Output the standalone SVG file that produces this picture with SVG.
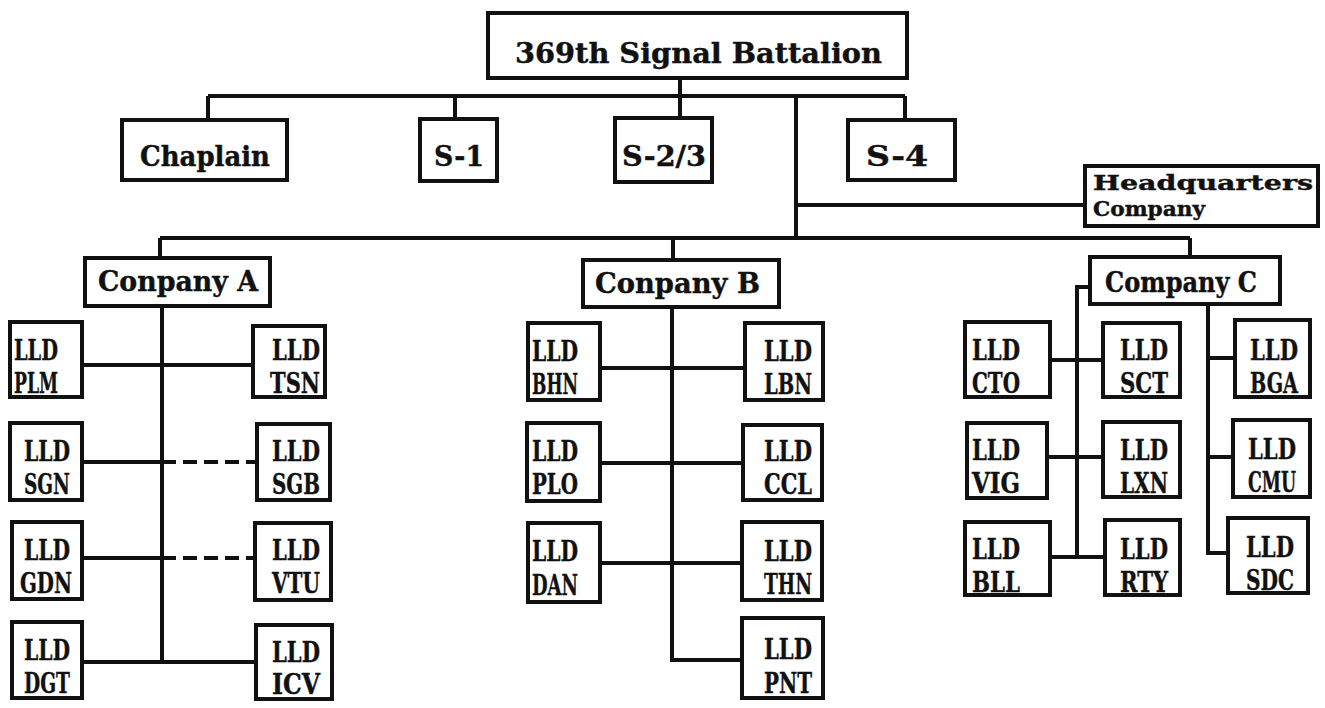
<svg xmlns="http://www.w3.org/2000/svg" width="1325" height="708" viewBox="0 0 1325 708">
<style>
.box{fill:#fff;stroke:#111;stroke-width:4}
.ln{stroke:#111;stroke-width:4;fill:none}
.dash{stroke:#111;stroke-width:4;fill:none;stroke-dasharray:14 7}
.t{font-family:"DejaVu Serif","Liberation Serif",serif;font-weight:bold;fill:#111;stroke:#111;stroke-width:0.4}
.s{font-size:27px}
.q{font-size:20px}
</style>
<rect width="1325" height="708" fill="#fff"/>
<g id="connectors">
<path class="ln" d="M680 78V118M208 96H905M208 96V120M455 96V120M905 96V120M796 96V238M796 205H1085M160 238H1190M160 238V258M673 238V260M1190 238V257"/>
<path class="ln" d="M162 305V662M82 365H253M82 462H162M82 558H162M82 662H256"/>
<path class="dash" d="M162 462H257M162 558H255"/>
<path class="ln" d="M672 307V660H742M600 368H745M600 463H743M600 563H742"/>
<path class="ln" d="M1090 287H1077V557M1050 360H1103M1047 457H1103M1050 557H1105M1208 305V553H1228M1208 358H1235M1208 457H1233"/>
</g>
<g id="n-battalion"><rect class="box" x="488" y="13" width="419" height="65"/><text class="t s" x="515" y="63" textLength="367" lengthAdjust="spacingAndGlyphs">369th Signal Battalion</text></g>
<g id="n-chaplain"><rect class="box" x="122" y="120" width="165" height="60"/><text class="t s" x="140" y="166" textLength="130" lengthAdjust="spacingAndGlyphs">Chaplain</text></g>
<g id="n-s1"><rect class="box" x="420" y="119" width="77" height="62"/><text class="t s" x="434" y="166" textLength="50" lengthAdjust="spacingAndGlyphs">S-1</text></g>
<g id="n-s23"><rect class="box" x="615" y="118" width="97" height="64"/><text class="t s" x="622" y="166" textLength="84" lengthAdjust="spacingAndGlyphs">S-2/3</text></g>
<g id="n-s4"><rect class="box" x="848" y="120" width="107" height="60"/><text class="t s" x="866" y="166" textLength="62" lengthAdjust="spacingAndGlyphs">S-4</text></g>
<g id="n-hq"><rect class="box" x="1085" y="166" width="233" height="60"/><text class="t q" x="1093" y="190" textLength="220" lengthAdjust="spacingAndGlyphs">Headquarters</text><text class="t q" x="1093" y="216" textLength="112" lengthAdjust="spacingAndGlyphs">Company</text></g>
<g id="n-coa"><rect class="box" x="85" y="258" width="185" height="48"/><text class="t s" x="98" y="291" textLength="160" lengthAdjust="spacingAndGlyphs">Conpany A</text></g>
<g id="n-cob"><rect class="box" x="583" y="260" width="196" height="47"/><text class="t s" x="595" y="293" textLength="165" lengthAdjust="spacingAndGlyphs">Conpany B</text></g>
<g id="n-coc"><rect class="box" x="1090" y="257" width="190" height="47"/><text class="t s" x="1105" y="292" textLength="152" lengthAdjust="spacingAndGlyphs">Company C</text></g>
<g font-size="28px">
<g id="n-plm"><rect class="box" x="10" y="322" width="72" height="75"/><text class="t" x="14" y="360" textLength="44" lengthAdjust="spacingAndGlyphs">LLD</text><text class="t" x="14" y="393" textLength="44" lengthAdjust="spacingAndGlyphs">PLM</text></g>
<g id="n-sgn"><rect class="box" x="10" y="423" width="72" height="77"/><text class="t" x="24" y="461" textLength="46" lengthAdjust="spacingAndGlyphs">LLD</text><text class="t" x="24" y="494" textLength="46" lengthAdjust="spacingAndGlyphs">SGN</text></g>
<g id="n-gdn"><rect class="box" x="12" y="522" width="70" height="77"/><text class="t" x="24" y="560" textLength="46" lengthAdjust="spacingAndGlyphs">LLD</text><text class="t" x="20" y="593" textLength="52" lengthAdjust="spacingAndGlyphs">GDN</text></g>
<g id="n-dgt"><rect class="box" x="12" y="622" width="70" height="76"/><text class="t" x="24" y="660" textLength="46" lengthAdjust="spacingAndGlyphs">LLD</text><text class="t" x="24" y="693" textLength="46" lengthAdjust="spacingAndGlyphs">DGT</text></g>
<g id="n-tsn"><rect class="box" x="253" y="326" width="72" height="71"/><text class="t" x="272" y="360" textLength="48" lengthAdjust="spacingAndGlyphs">LLD</text><text class="t" x="270" y="393" textLength="50" lengthAdjust="spacingAndGlyphs">TSN</text></g>
<g id="n-sgb"><rect class="box" x="257" y="424" width="73" height="76"/><text class="t" x="272" y="461" textLength="48" lengthAdjust="spacingAndGlyphs">LLD</text><text class="t" x="272" y="494" textLength="48" lengthAdjust="spacingAndGlyphs">SGB</text></g>
<g id="n-vtu"><rect class="box" x="255" y="523" width="76" height="77"/><text class="t" x="272" y="560" textLength="48" lengthAdjust="spacingAndGlyphs">LLD</text><text class="t" x="272" y="593" textLength="48" lengthAdjust="spacingAndGlyphs">VTU</text></g>
<g id="n-icv"><rect class="box" x="256" y="625" width="76" height="74"/><text class="t" x="272" y="662" textLength="48" lengthAdjust="spacingAndGlyphs">LLD</text><text class="t" x="272" y="694" textLength="48" lengthAdjust="spacingAndGlyphs">ICV</text></g>
<g id="n-bhn"><rect class="box" x="528" y="323" width="72" height="77"/><text class="t" x="532" y="361" textLength="46" lengthAdjust="spacingAndGlyphs">LLD</text><text class="t" x="532" y="394" textLength="46" lengthAdjust="spacingAndGlyphs">BHN</text></g>
<g id="n-plo"><rect class="box" x="527" y="423" width="73" height="78"/><text class="t" x="532" y="461" textLength="46" lengthAdjust="spacingAndGlyphs">LLD</text><text class="t" x="532" y="494" textLength="46" lengthAdjust="spacingAndGlyphs">PLO</text></g>
<g id="n-dan"><rect class="box" x="528" y="523" width="72" height="79"/><text class="t" x="532" y="561" textLength="46" lengthAdjust="spacingAndGlyphs">LLD</text><text class="t" x="532" y="595" textLength="46" lengthAdjust="spacingAndGlyphs">DAN</text></g>
<g id="n-lbn"><rect class="box" x="745" y="323" width="78" height="77"/><text class="t" x="764" y="361" textLength="48" lengthAdjust="spacingAndGlyphs">LLD</text><text class="t" x="764" y="394" textLength="48" lengthAdjust="spacingAndGlyphs">LBN</text></g>
<g id="n-ccl"><rect class="box" x="743" y="425" width="79" height="75"/><text class="t" x="764" y="461" textLength="48" lengthAdjust="spacingAndGlyphs">LLD</text><text class="t" x="764" y="494" textLength="48" lengthAdjust="spacingAndGlyphs">CCL</text></g>
<g id="n-thn"><rect class="box" x="742" y="522" width="80" height="78"/><text class="t" x="764" y="561" textLength="48" lengthAdjust="spacingAndGlyphs">LLD</text><text class="t" x="764" y="594" textLength="48" lengthAdjust="spacingAndGlyphs">THN</text></g>
<g id="n-pnt"><rect class="box" x="742" y="618" width="81" height="80"/><text class="t" x="764" y="659" textLength="48" lengthAdjust="spacingAndGlyphs">LLD</text><text class="t" x="764" y="693" textLength="48" lengthAdjust="spacingAndGlyphs">PNT</text></g>
<g id="n-cto"><rect class="box" x="965" y="322" width="85" height="75"/><text class="t" x="972" y="360" textLength="48" lengthAdjust="spacingAndGlyphs">LLD</text><text class="t" x="972" y="393" textLength="48" lengthAdjust="spacingAndGlyphs">CTO</text></g>
<g id="n-vig"><rect class="box" x="967" y="423" width="80" height="75"/><text class="t" x="972" y="460" textLength="48" lengthAdjust="spacingAndGlyphs">LLD</text><text class="t" x="972" y="493" textLength="48" lengthAdjust="spacingAndGlyphs">VIG</text></g>
<g id="n-bll"><rect class="box" x="965" y="522" width="85" height="73"/><text class="t" x="972" y="559" textLength="48" lengthAdjust="spacingAndGlyphs">LLD</text><text class="t" x="972" y="592" textLength="48" lengthAdjust="spacingAndGlyphs">BLL</text></g>
<g id="n-sct"><rect class="box" x="1103" y="323" width="77" height="74"/><text class="t" x="1120" y="360" textLength="48" lengthAdjust="spacingAndGlyphs">LLD</text><text class="t" x="1120" y="393" textLength="48" lengthAdjust="spacingAndGlyphs">SCT</text></g>
<g id="n-lxn"><rect class="box" x="1103" y="422" width="77" height="75"/><text class="t" x="1120" y="460" textLength="48" lengthAdjust="spacingAndGlyphs">LLD</text><text class="t" x="1120" y="493" textLength="48" lengthAdjust="spacingAndGlyphs">LXN</text></g>
<g id="n-rty"><rect class="box" x="1105" y="520" width="75" height="75"/><text class="t" x="1120" y="559" textLength="48" lengthAdjust="spacingAndGlyphs">LLD</text><text class="t" x="1120" y="592" textLength="48" lengthAdjust="spacingAndGlyphs">RTY</text></g>
<g id="n-bga"><rect class="box" x="1235" y="320" width="75" height="77"/><text class="t" x="1250" y="360" textLength="48" lengthAdjust="spacingAndGlyphs">LLD</text><text class="t" x="1250" y="393" textLength="48" lengthAdjust="spacingAndGlyphs">BGA</text></g>
<g id="n-cmu"><rect class="box" x="1233" y="420" width="77" height="77"/><text class="t" x="1248" y="459" textLength="48" lengthAdjust="spacingAndGlyphs">LLD</text><text class="t" x="1248" y="492" textLength="48" lengthAdjust="spacingAndGlyphs">CMU</text></g>
<g id="n-sdc"><rect class="box" x="1228" y="518" width="80" height="75"/><text class="t" x="1246" y="557" textLength="48" lengthAdjust="spacingAndGlyphs">LLD</text><text class="t" x="1246" y="590" textLength="48" lengthAdjust="spacingAndGlyphs">SDC</text></g>
</g>
</svg>
